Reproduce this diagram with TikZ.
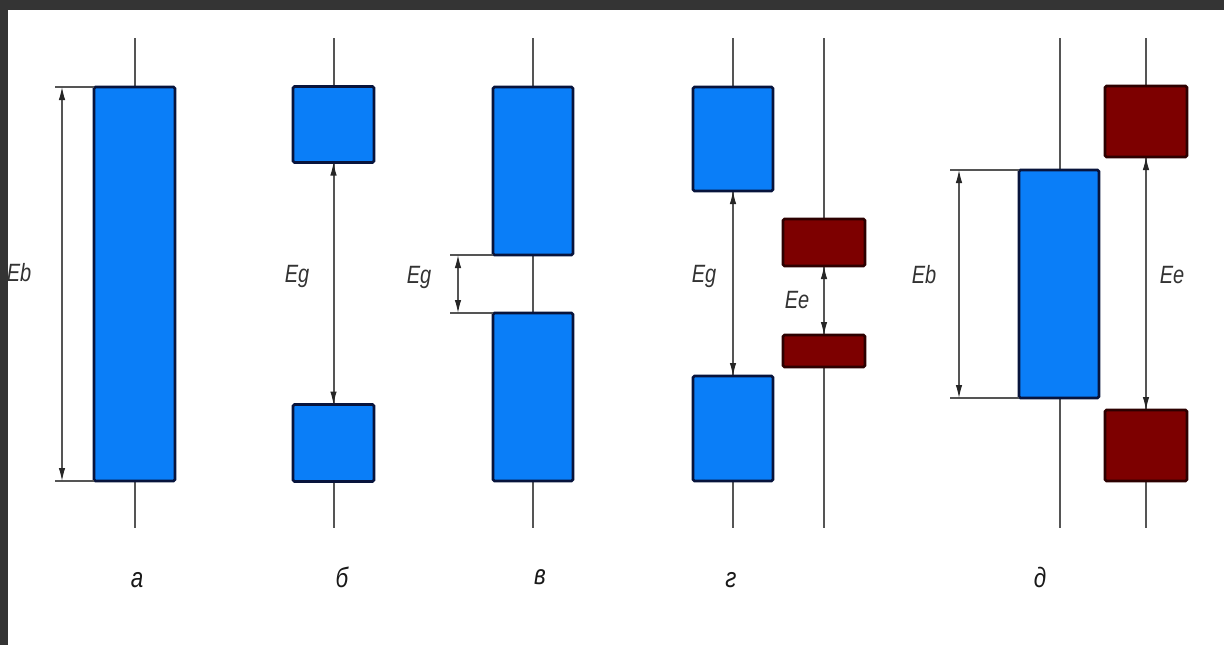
\documentclass[tikz,border=0pt]{standalone}
\usepackage{fontspec}
\newfontfamily\gost[FakeStretch=0.8]{Liberation Sans}
\usetikzlibrary{arrows.meta}
\definecolor{bfill}{RGB}{10,126,248}
\definecolor{bdraw}{RGB}{8,20,60}
\definecolor{rfill}{RGB}{125,0,0}
\definecolor{rdraw}{RGB}{45,0,0}
\definecolor{framecol}{RGB}{52,52,52}
\definecolor{axisgray}{RGB}{85,85,85}
\tikzset{
  bbox/.style={draw=bdraw, fill=bfill, line width=2.8pt, rounded corners=1.5pt, inner sep=0, outer sep=0},
  rbox/.style={draw=rdraw, fill=rfill, line width=2.8pt, rounded corners=1.5pt, inner sep=0, outer sep=0},
  axisline/.style={draw=axisgray, line width=1.2pt},
  extline/.style={draw=axisgray, line width=1.2pt},
  tipa/.style={Latex[length=13pt,width=6.5pt,color=black!85]},
  dimline/.style={draw=axisgray, line width=1.1pt, {Latex[length=13pt,width=6.5pt,color=black!85]}-{Latex[length=13pt,width=6.5pt,color=black!85]}},
  lab/.style={font=\gost\itshape\fontsize{25}{25}\selectfont, text=black!80, inner sep=0},
  captext/.style={font=\gost\itshape\fontsize{28}{28}\selectfont, text=black!90, inner sep=0},
}
\begin{document}
\begin{tikzpicture}[x=1pt,y=-1pt]
\useasboundingbox (0,0) rectangle (1224,645);
\fill[white] (0,0) rectangle (1224,645);
% axes
\foreach \n/\x in {aa/135,ab/334,ac/533,ad/733,ae/824,af/1060,ag/1146}{
  \coordinate (\n t) at (\x,38);
  \coordinate (\n b) at (\x,528);
  \draw[axisline] (\n t) -- (\n b);
}
% panel a
\node[bbox, minimum width=81, minimum height=394] (A) at (134.5,284) {};
\coordinate (Aet) at (55,87); \coordinate (Aeb) at (55,481);
\coordinate (Adt) at (62,87); \coordinate (Adb) at (62,481);
\draw[extline] (Aet) -- (A.north west);
\draw[extline] (Aeb) -- (A.south west);
\draw[dimline] (Adt) -- (Adb);
\node[lab] (Alab) at (19,273) {Eb};
% panel b
\node[bbox, minimum width=81, minimum height=76] (B1) at (333.5,124.5) {};
\node[bbox, minimum width=81, minimum height=77] (B2) at (333.5,443) {};
\draw[dimline] (B1.south) -- (B2.north);
\node[lab] (Blab) at (297,276) {Eg};
% panel c
\node[bbox, minimum width=80, minimum height=168] (C1) at (533,171) {};
\node[bbox, minimum width=80, minimum height=168] (C2) at (533,397) {};
\coordinate (Cet) at (450,255); \coordinate (Ceb) at (450,313);
\coordinate (Cdt) at (458,255); \coordinate (Cdb) at (458,313);
\draw[extline] (Cet) -- (C1.south west);
\draw[extline] (Ceb) -- (C2.north west);
\draw[dimline] (Cdt) -- (Cdb);
\node[lab] (Clab) at (419,277) {Eg};
% panel d
\node[bbox, minimum width=80, minimum height=104] (D1) at (733,139) {};
\node[bbox, minimum width=80, minimum height=105] (D2) at (733,428.5) {};
\draw[dimline] (D1.south) -- (D2.north);
\node[lab] (Dlab) at (704,276) {Eg};
\node[rbox, minimum width=82, minimum height=47] (D3) at (824,242.5) {};
\node[rbox, minimum width=82, minimum height=32] (D4) at (824,351) {};
\draw[dimline] (D3.south) -- (D4.north);
\node[lab] (Dlab2) at (797,300) {Ee};
% panel e
\node[bbox, minimum width=80, minimum height=228] (E1) at (1059,284) {};
\coordinate (Eet) at (950,170); \coordinate (Eeb) at (950,398);
\coordinate (Edt) at (959,170); \coordinate (Edb) at (959,398);
\draw[extline] (Eet) -- (E1.north west);
\draw[extline] (Eeb) -- (E1.south west);
\draw[dimline] (Edt) -- (Edb);
\node[lab] (Elab) at (924,275) {Eb};
\node[rbox, minimum width=82, minimum height=71] (E2) at (1146,121.5) {};
\node[rbox, minimum width=82, minimum height=71] (E3) at (1146,445.5) {};
\draw[dimline] (E2.south) -- (E3.north);
\node[lab] (Elab2) at (1172,275) {Ee};
% captions
\node[captext] (ca) at (137,580) {а};
\node[captext] (cb) at (342,577) {б};
\node[captext] (cc) at (540,577) {в};
\node[captext] (cd) at (731,580) {г};
\node[captext] (ce) at (1040,577) {д};
% frame
\fill[framecol] (0,0) rectangle (1224,10);
\fill[framecol] (0,0) rectangle (8,645);
\end{tikzpicture}
\end{document}
